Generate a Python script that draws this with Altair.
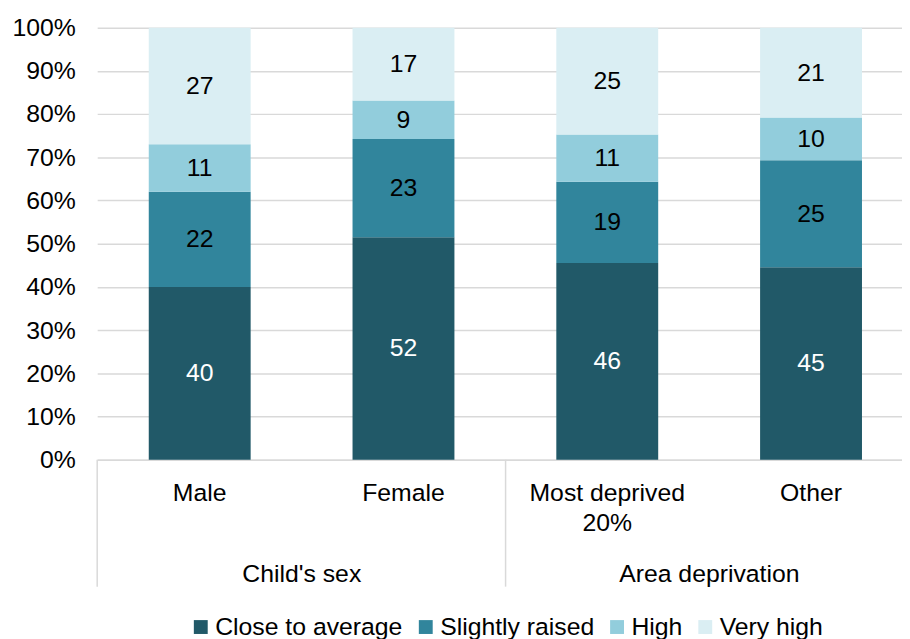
import altair as alt
import pandas as pd

categories = ["Male", "Female", "Most deprived 20%", "Other"]
group_names = ["Child's sex", "Area deprivation"]
group_anchor = ["Male", "Most deprived 20%"]
levels = ["Close to average", "Slightly raised", "High", "Very high"]
close_to_average = [40, 52, 46, 45]
slightly_raised = [22, 23, 19, 25]
high = [11, 9, 11, 10]
very_high = [27, 17, 25, 21]
colors = ["#215968", "#31859C", "#92CDDC", "#DAEEF3"]

series = [close_to_average, slightly_raised, high, very_high]
rows = []
for i, cat in enumerate(categories):
    for j, lvl in enumerate(levels):
        rows.append({"category": cat, "level": lvl, "order": j, "value": series[j][i]})
df = pd.DataFrame(rows)

W, H = 812, 436
FONT = "Liberation Sans"
FS = 25
GREY = "#d9d9d9"
HALF_BAND = 51.6

xscale = alt.Scale(domain=categories, paddingInner=0.5, paddingOuter=0.2247, align=0.563)
xaxis = alt.Axis(
    title=None, labelAngle=0, ticks=False, domainColor=GREY, domainWidth=1.5,
    labelFontSize=FS, labelFont=FONT, labelColor="black", labelPadding=21,
    labelLineHeight=30,
    labelExpr="datum.value == 'Most deprived 20%' ? ['Most deprived', '20%'] : datum.value",
)


def X(**kw):
    return alt.X("category:N", sort=categories, scale=xscale, axis=xaxis, **kw)


base = alt.Chart(df)

bars = base.mark_bar().encode(
    x=X(),
    y=alt.Y(
        "value:Q", stack="normalize", scale=alt.Scale(domain=[0, 1], nice=False),
        axis=alt.Axis(
            title=None, format=".0%", values=[i / 10 for i in range(11)],
            ticks=False, domain=False, gridColor=GREY, gridWidth=1.5,
            labelFontSize=FS, labelFont=FONT, labelColor="black", labelPadding=22,
        ),
    ),
    color=alt.Color(
        "level:N", scale=alt.Scale(domain=levels, range=colors),
        legend=alt.Legend(
            orient="none", legendX=92, legendY=592, direction="horizontal", title=None,
            symbolType="square", symbolSize=196, symbolStrokeWidth=0, symbolOpacity=1,
            labelFontSize=FS, labelFont=FONT, labelColor="black", labelLimit=0,
            columnPadding=10, labelOffset=2,
        ),
    ),
    order=alt.Order("order:Q", sort="ascending"),
)

labels_base = base.transform_joinaggregate(
    total="sum(value)", groupby=["category"]
).transform_window(
    cum="sum(value)", groupby=["category"], sort=[alt.SortField("order")]
).transform_calculate(
    mid="(datum.cum - datum.value / 2) / datum.total"
)

txt_white = labels_base.transform_filter("datum.order == 0").mark_text(
    fontSize=FS, font=FONT, color="white", baseline="middle"
).encode(x=X(), y=alt.Y("mid:Q"), text=alt.Text("value:Q"))

txt_black = labels_base.transform_filter("datum.order > 0").mark_text(
    fontSize=FS, font=FONT, color="black", baseline="middle"
).encode(x=X(), y=alt.Y("mid:Q"), text=alt.Text("value:Q"))

sep_left = alt.Chart(pd.DataFrame({"k": [0]})).mark_rule(color=GREY, strokeWidth=1.5).encode(
    x=alt.value(0), y=alt.value(H), y2=alt.value(H + 128)
)

sep_mid = alt.Chart(pd.DataFrame({"category": ["Female"]})).mark_rule(
    color=GREY, strokeWidth=1.5, xOffset=HALF_BAND
).encode(x=X(bandPosition=1), y=alt.value(H), y2=alt.value(H + 128))

grp = alt.Chart(pd.DataFrame({"category": group_anchor, "group": group_names})).mark_text(
    fontSize=FS, font=FONT, color="black", baseline="middle", dx=HALF_BAND
).encode(x=X(bandPosition=1), y=alt.value(H + 115), text="group:N")

chart = alt.layer(bars, txt_white, txt_black, sep_left, sep_mid, grp).properties(
    width=W, height=H,
    autosize=alt.AutoSizeParams(type="none"),
    padding={"left": 90, "top": 17, "right": 0, "bottom": 178},
).configure_view(stroke=None)

chart.save("out.html", embed_options={"renderer": "svg", "actions": False})
